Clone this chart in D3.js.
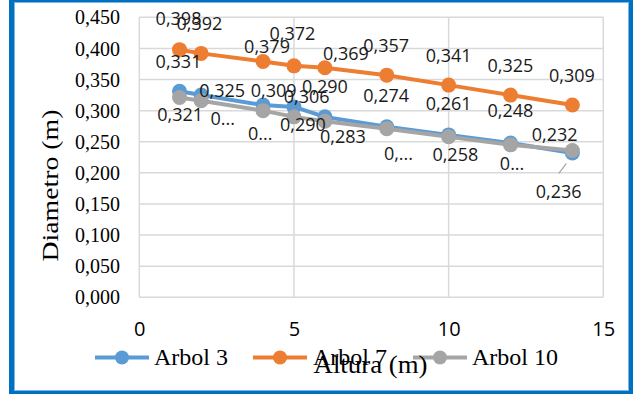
<!DOCTYPE html>
<html>
<head>
<meta charset="utf-8">
<script src="https://cdn.jsdelivr.net/npm/d3@7"></script>
<style>
  html, body { margin: 0; padding: 0; background: #fff; }
  svg { display: block; }
</style>
</head>
<body>
<svg id="chart" width="633" height="394"></svg>
<script>
// ---- data ----
const alturas = [1.3, 2, 4, 5, 6, 8, 10, 12, 14];
const arbol3 = [0.331, 0.325, 0.309, 0.306, 0.290, 0.274, 0.261, 0.248, 0.232];
const arbol7 = [0.398, 0.392, 0.379, 0.372, 0.369, 0.357, 0.341, 0.325, 0.309];
const arbol10 = [0.321, 0.316, 0.300, 0.290, 0.283, 0.271, 0.258, 0.245, 0.236];
// labels shown in the chart (some truncated in the original)
const arbol10Shown = ["0,321", "0...", "0...", "0,290", "0,283", "0,...", "0,258", "0...", "0,236"];
const seriesNames = ["Arbol 3", "Arbol 7", "Arbol 10"];
const xTicks = [0, 5, 10, 15];
const yTicks = [0, 0.05, 0.1, 0.15, 0.2, 0.25, 0.3, 0.35, 0.4, 0.45];

// ---- styles (label offsets in px, as placed in the original) ----
const colors = ["#5B9BD5", "#ED7D31", "#A5A5A5"];
const offs3 = [[-1,-30],[21,-4.5],[10.6,-15],[12.7,-10],[0,-30],[-0.6,-31],[0,-31],[0,-32],[-17.7,-18]];
const offs7 = [[-1,-31],[-1.7,-30],[4,-15],[-1.5,-32],[21,-14],[-0.6,-30],[0,-30],[0,-30],[-0.4,-30]];
const offs10 = [[0.7,17],[21.6,17.5],[-2.7,22.6],[9,8],[18,15],[11.7,24.5],[6.7,18],[1.6,18.5],[-13.7,41]];

const fmt = v => d3.format(".3f")(v).replace(".", ",");

const svg = d3.select("#chart");
const x = d3.scaleLinear().domain([0, 15]).range([139.3, 603.3]);
const y = d3.scaleLinear().domain([0, 0.45]).range([297.3, 17.3]);

// frame
svg.append("rect").attr("x", 0).attr("y", 0).attr("width", 633).attr("height", 394).attr("fill", "#fff");
svg.append("rect").attr("x", 11.5).attr("y", -0.5).attr("width", 620).attr("height", 393.5)
  .attr("fill", "none").attr("stroke", "#0070C0").attr("stroke-width", 5);
svg.append("rect").attr("x", 14.5).attr("y", 2.5).attr("width", 614).attr("height", 388)
  .attr("fill", "none").attr("stroke", "#7DB6E6").attr("stroke-width", 1);

// gridlines
const grid = svg.append("g");
grid.selectAll("line.h").data(yTicks).join("line")
  .attr("x1", x(0)).attr("x2", x(15)).attr("y1", d => y(d)).attr("y2", d => y(d))
  .attr("stroke", "#D9D9D9").attr("stroke-width", 1.5);
grid.selectAll("line.v").data(xTicks).join("line")
  .attr("y1", y(0)).attr("y2", y(0.45)).attr("x1", d => x(d)).attr("x2", d => x(d))
  .attr("stroke", "#D9D9D9").attr("stroke-width", 1.5);

// y axis
const yAxis = d3.axisLeft(y).tickValues(yTicks).tickFormat(fmt).tickSize(0).tickPadding(0);
const gy = svg.append("g").attr("transform", "translate(120,0)").call(yAxis);
gy.select(".domain").remove();
gy.selectAll("text").attr("font-family", "'Liberation Serif', 'Times New Roman', serif")
  .attr("font-size", 20).attr("fill", "#000").attr("dy", "0.33em");

// x axis
const xAxis = d3.axisBottom(x).tickValues(xTicks).tickFormat(d3.format("d")).tickSize(0).tickPadding(0);
const gx = svg.append("g").attr("transform", "translate(0,329)").call(xAxis);
gx.select(".domain").remove();
gx.selectAll("text").attr("font-family", "'Open Sans', 'Noto Sans', sans-serif")
  .attr("font-size", 20).attr("fill", "#000").attr("dy", "0.35em");

// series
const series = [
  { vals: arbol3, color: colors[0], offs: offs3, shown: arbol3.map(fmt) },
  { vals: arbol7, color: colors[1], offs: offs7, shown: arbol7.map(fmt) },
  { vals: arbol10, color: colors[2], offs: offs10, shown: arbol10Shown }
];
const line = d3.line().x((d, i) => x(alturas[i])).y(d => y(d));
series.forEach(s => {
  svg.append("path").attr("d", line(s.vals)).attr("fill", "none")
    .attr("stroke", s.color).attr("stroke-width", 4).attr("stroke-linejoin", "round");
  svg.append("g").selectAll("circle").data(s.vals).join("circle")
    .attr("cx", (d, i) => x(alturas[i])).attr("cy", d => y(d)).attr("r", 7.5)
    .attr("fill", s.color);
});

// leader line for last Arbol 10 label
svg.append("line")
  .attr("x1", x(alturas[8]) - 6).attr("y1", y(arbol10[8]) + 13)
  .attr("x2", x(alturas[8]) - 13.5).attr("y2", y(arbol10[8]) + 23)
  .attr("stroke", "#A6A6A6").attr("stroke-width", 1.2);

// data labels
series.forEach(s => {
  svg.append("g").selectAll("text").data(s.vals).join("text")
    .attr("x", (d, i) => x(alturas[i]) + s.offs[i][0])
    .attr("y", (d, i) => y(d) + s.offs[i][1])
    .attr("dy", "0.36em")
    .attr("text-anchor", "middle")
    .attr("font-family", "'Open Sans', 'Noto Sans', sans-serif")
    .attr("font-size", 18).attr("fill", "#1a1a1a")
    .text((d, i) => s.shown[i]);
});

// axis titles
svg.append("text")
  .attr("transform", "translate(58,185.5) rotate(-90)")
  .attr("text-anchor", "middle")
  .attr("font-family", "'Liberation Serif', 'Times New Roman', serif")
  .attr("font-size", 24).attr("fill", "#000")
  .attr("textLength", 152).attr("lengthAdjust", "spacingAndGlyphs")
  .text("Diametro (m)");

// legend
const legX = [95, 253, 413];
const legTextX = [154, 313, 472];
const leg = svg.append("g");
seriesNames.forEach((name, i) => {
  leg.append("line").attr("x1", legX[i]).attr("x2", legX[i] + 54)
    .attr("y1", 357.5).attr("y2", 357.5).attr("stroke", colors[i]).attr("stroke-width", 4);
  leg.append("circle").attr("cx", legX[i] + 27).attr("cy", 357.5).attr("r", 7).attr("fill", colors[i]);
  leg.append("text").attr("x", legTextX[i]).attr("y", 365)
    .attr("font-family", "'Liberation Serif', 'Times New Roman', serif")
    .attr("font-size", 24).attr("fill", "#000").text(name);
});

svg.append("text")
  .attr("x", 313.5).attr("y", 373)
  .attr("font-family", "'Liberation Serif', 'Times New Roman', serif")
  .attr("font-size", 25).attr("fill", "#000")
  .attr("textLength", 114).attr("lengthAdjust", "spacingAndGlyphs")
  .text("Altura (m)");
</script>
</body>
</html>
